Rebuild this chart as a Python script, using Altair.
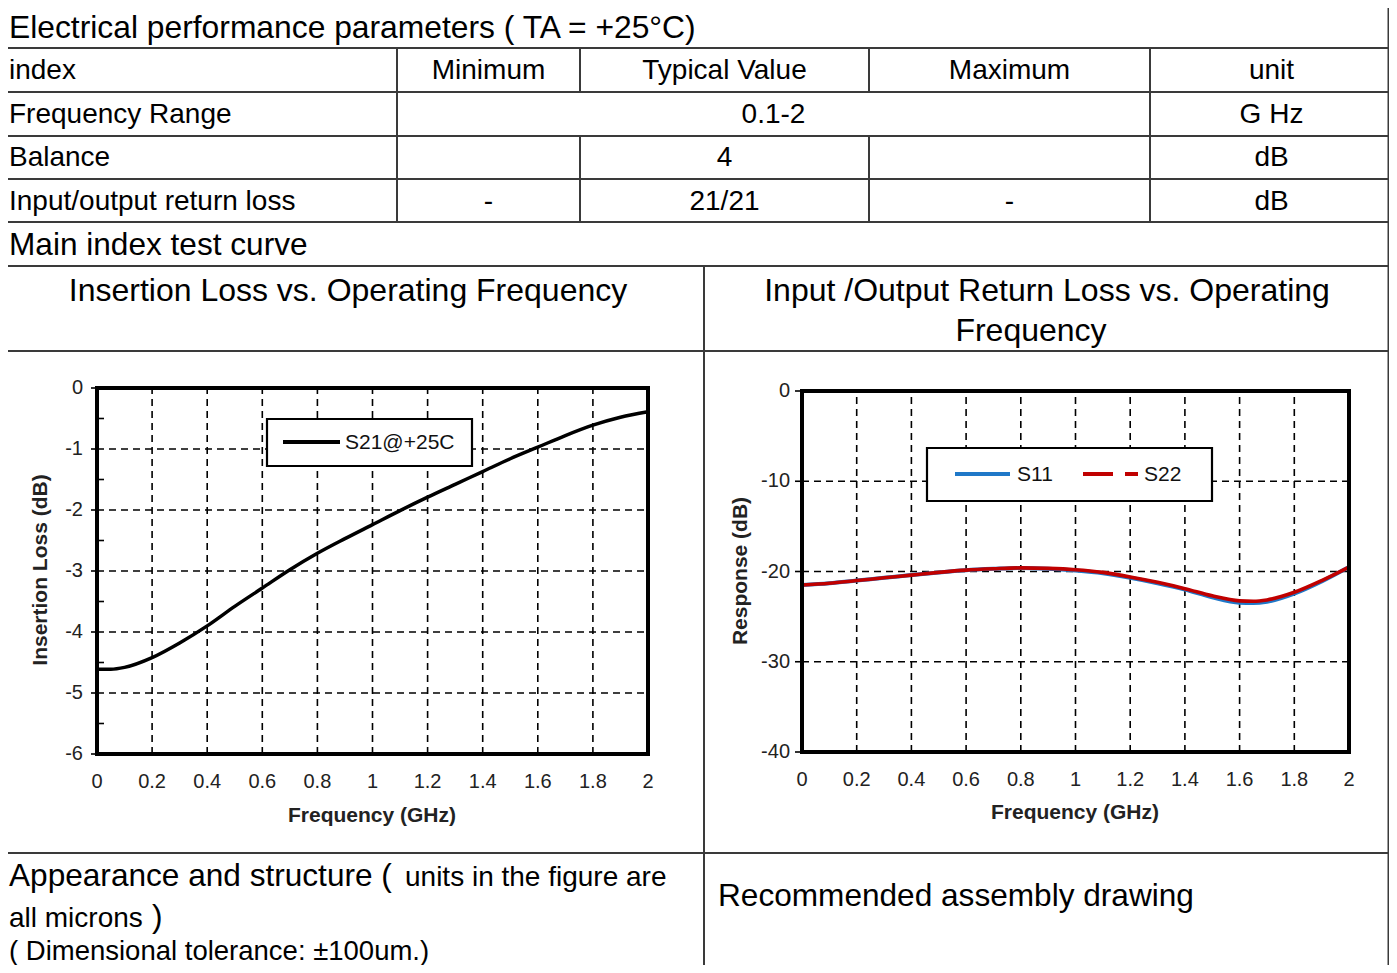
import altair as alt
import pandas as pd

# ---------------- data ----------------
title_text = "Electrical performance parameters ( TA = +25°C)"
header = ["index", "Minimum", "Typical Value", "Maximum", "unit"]
row_names = ["Frequency Range", "Balance", "Input/output return loss"]
row_min = ["", "", "-"]
row_typ = ["0.1-2", "4", "21/21"]
row_max = ["", "", "-"]
row_unit = ["G Hz", "dB", "dB"]
section_curve = "Main index test curve"
chart1_title = ["Insertion Loss vs. Operating Frequency"]
chart2_title = ["Input /Output Return Loss vs. Operating", "Frequency"]
appearance_big = ["Appearance and structure (", ")"]
appearance_small = ["units in the figure are", "all microns", "( Dimensional tolerance: ±100um.)"]
assembly_text = "Recommended assembly drawing"

x_title = "Frequency (GHz)"
il_title = "Insertion Loss (dB)"
rl_title = "Response (dB)"

freq_il = [0.0, 0.05, 0.1, 0.2, 0.3, 0.4, 0.5, 0.6, 0.7, 0.8, 0.9, 1.0,
           1.1, 1.2, 1.3, 1.4, 1.5, 1.6, 1.7, 1.8, 1.9, 2.0]
s21 = [-4.61, -4.61, -4.58, -4.42, -4.18, -3.90, -3.58, -3.28, -2.98, -2.71, -2.47, -2.24,
       -2.01, -1.79, -1.58, -1.37, -1.16, -0.97, -0.78, -0.61, -0.48, -0.39]

freq_rl = [0.0, 0.1, 0.2, 0.3, 0.4, 0.5, 0.6, 0.7, 0.8, 0.9, 1.0, 1.1,
           1.2, 1.3, 1.4, 1.5, 1.6, 1.65, 1.7, 1.8, 1.9, 2.0]
s11 = [-21.5, -21.3, -21.0, -20.7, -20.4, -20.1, -19.85, -19.7, -19.6, -19.7, -19.9, -20.2,
       -20.7, -21.3, -22.0, -22.85, -23.45, -23.5, -23.35, -22.45, -21.1, -19.5]
s22 = [-21.5, -21.3, -21.0, -20.7, -20.4, -20.1, -19.85, -19.7, -19.6, -19.65, -19.8, -20.1,
       -20.6, -21.2, -21.9, -22.7, -23.25, -23.3, -23.15, -22.3, -21.0, -19.5]

x_ticks = [0, 0.2, 0.4, 0.6, 0.8, 1, 1.2, 1.4, 1.6, 1.8, 2]
il_ticks = [0, -1, -2, -3, -4, -5, -6]
il_minor = [-0.5, -1.5, -2.5, -3.5, -4.5, -5.5]
rl_ticks = [0, -10, -20, -30, -40]
legend1 = ["S21@+25C"]
legend2 = ["S11", "S22"]

# ---------------- layout (page pixels) ----------------
FONT = "Liberation Sans"
M = 8  # page margin


def P(v):
    return v - M


W, H = 1397 - 2 * M, 973 - 2 * M
RIGHT = 1388.5  # right table border (kept inside the visible canvas)

layers = []
dummy = pd.DataFrame({"k": [0]})

# table lines
hl = [4, 48, 92, 136, 179, 222, 266, 351, 853]
segs = [(0, y, RIGHT, y) for y in hl]
segs += [(RIGHT, 4, RIGHT, 980)]
segs += [(397, 48, 397, 222), (1150, 48, 1150, 222)]
segs += [(580, 48, 580, 92), (580, 136, 580, 222), (869, 48, 869, 92), (869, 136, 869, 222)]
segs += [(704, 266, 704, 980)]
seg_df = pd.DataFrame([(P(a), P(b), P(c), P(d)) for a, b, c, d in segs], columns=["x", "y", "x2", "y2"])
layers.append(
    alt.Chart(seg_df).mark_rule(color="#3a3a3a", strokeWidth=2).encode(
        x=alt.X("x:Q", scale=None), y=alt.Y("y:Q", scale=None),
        x2="x2:Q", y2="y2:Q")
)


def text_layer(rows, align, weight="normal", angle=0, color="#000000"):
    df = pd.DataFrame([r for r in rows if r[0] != ""], columns=["t", "x", "y", "fs"])
    df["x"] = df["x"] - M
    df["y"] = df["y"] - M
    return alt.Chart(df).mark_text(align=align, baseline="middle", font=FONT,
                                   fontWeight=weight, angle=angle, color=color).encode(
        x=alt.X("x:Q", scale=None), y=alt.Y("y:Q", scale=None),
        text="t:N", size=alt.Size("fs:Q", scale=None))


col_cx = [None, 488.5, 724.5, 1009.5, 1271.5]
row_y = [115, 158, 202]
left_rows = [(title_text, 9, 28, 31.8), (header[0], 9, 71, 28), (section_curve, 9, 246, 31.6)]
left_rows += [(row_names[i], 9, row_y[i], 28) for i in range(3)]
left_rows += [(appearance_big[0], 9, 877, 31.6), (appearance_small[0], 405, 878, 28),
              (appearance_small[1], 9, 919, 28), (appearance_big[1], 152, 918, 31.6),
              (appearance_small[2], 9, 952, 27.5), (assembly_text, 718, 897, 31.6)]
center_rows = [(header[i], col_cx[i], 71, 28) for i in range(1, 5)]
for i in range(3):
    tx = 773.5 if i == 0 else col_cx[2]
    center_rows += [(row_min[i], col_cx[1], row_y[i], 28), (row_typ[i], tx, row_y[i], 28),
                    (row_max[i], col_cx[3], row_y[i], 28), (row_unit[i], col_cx[4], row_y[i], 28)]
center_rows += [(chart1_title[0], 348, 291, 32), (chart2_title[0], 1047, 291, 32),
                (chart2_title[1], 1031, 331, 32)]
layers.append(text_layer(left_rows, "left"))
layers.append(text_layer(center_rows, "center"))


def make_plot(xr, yd, yr, yticks, minor, series, colors, widths, ytitle, xlab_y, ylab_x,
              xtitle_pos, ytitle_pos, tick_x):
    XS = alt.Scale(domain=[0, 2], range=[P(xr[0]), P(xr[1])])
    YS = alt.Scale(domain=yd, range=[P(yr[0]), P(yr[1])])
    out = []
    # grid
    vg = pd.DataFrame({"f": x_ticks[1:-1], "lo": yd[0], "hi": yd[1]})
    out.append(alt.Chart(vg).mark_rule(color="black", strokeWidth=1.6, strokeDash=[7, 5]).encode(
        x=alt.X("f:Q", scale=XS, axis=None), y=alt.Y("lo:Q", scale=YS, axis=None), y2="hi:Q"))
    hg = pd.DataFrame({"v": yticks[1:-1], "a": 0, "b": 2})
    out.append(alt.Chart(hg).mark_rule(color="black", strokeWidth=1.6, strokeDash=[7, 5]).encode(
        y=alt.Y("v:Q", scale=YS, axis=None), x=alt.X("a:Q", scale=XS, axis=None), x2="b:Q"))
    # major ticks
    mt = pd.DataFrame({"v": yticks})
    out.append(alt.Chart(mt).mark_rule(color="black", strokeWidth=1.6).encode(
        y=alt.Y("v:Q", scale=YS, axis=None), x=alt.value(P(tick_x)), x2=alt.value(P(xr[0]))))
    if minor:
        mn = pd.DataFrame({"v": minor})
        out.append(alt.Chart(mn).mark_rule(color="black", strokeWidth=1.6).encode(
            y=alt.Y("v:Q", scale=YS, axis=None), x=alt.value(P(xr[0])), x2=alt.value(P(xr[0] + 7))))
    # curves
    for (fx, fy), c, w in zip(series, colors, widths):
        df = pd.DataFrame({"f": fx, "v": fy})
        out.append(alt.Chart(df).mark_line(color=c, strokeWidth=w, interpolate="monotone").encode(
            x=alt.X("f:Q", scale=XS, axis=None), y=alt.Y("v:Q", scale=YS, axis=None)))
    # frame
    fr = pd.DataFrame({"x0": [0], "x1": [2], "y0": [yd[0]], "y1": [yd[1]]})
    out.append(alt.Chart(fr).mark_rect(fill="transparent", stroke="black", strokeWidth=4).encode(
        x=alt.X("x0:Q", scale=XS, axis=None), x2="x1:Q",
        y=alt.Y("y0:Q", scale=YS, axis=None), y2="y1:Q"))
    # tick labels
    xl = pd.DataFrame({"f": x_ticks, "t": [f"{t:g}" for t in x_ticks]})
    out.append(alt.Chart(xl).mark_text(font=FONT, fontSize=20, color="#222222", baseline="middle").encode(
        x=alt.X("f:Q", scale=XS, axis=None), y=alt.value(P(xlab_y)), text="t:N"))
    yl = pd.DataFrame({"v": yticks, "t": [f"{t:g}" for t in yticks]})
    out.append(alt.Chart(yl).mark_text(font=FONT, fontSize=20, color="#222222", align="right",
                                       baseline="middle").encode(
        y=alt.Y("v:Q", scale=YS, axis=None), x=alt.value(P(ylab_x)), text="t:N"))
    # titles
    out.append(alt.Chart(dummy).mark_text(font=FONT, fontSize=21, fontWeight="bold", color="#222222",
                                          baseline="middle").encode(
        x=alt.value(P(xtitle_pos[0])), y=alt.value(P(xtitle_pos[1])), text=alt.value(x_title)))
    out.append(alt.Chart(dummy).mark_text(font=FONT, fontSize=21, fontWeight="bold", color="#222222",
                                          baseline="middle", angle=270).encode(
        x=alt.value(P(ytitle_pos[0])), y=alt.value(P(ytitle_pos[1])), text=alt.value(ytitle)))
    return out


layers += make_plot((97, 648), [-6, 0], (754, 388), il_ticks, il_minor,
                    [(freq_il, s21)], ["black"], [3.5], il_title, 782, 83,
                    (372, 816), (41, 570), 91)
layers += make_plot((802, 1349), [-40, 0], (752, 391), rl_ticks, None,
                    [(freq_rl, s11), (freq_rl, s22)], ["#1f78c8", "#c00000"], [4, 3.6],
                    rl_title, 780, 790, (1075, 813), (741, 571), 795)


# legends
def box(x0, x1, y0, y1):
    return alt.Chart(dummy).mark_rect(fill="white", stroke="black", strokeWidth=2.2).encode(
        x=alt.value(P(x0)), x2=alt.value(P(x1)), y=alt.value(P(y0)), y2=alt.value(P(y1)))


def sample(x0, x1, y, color, dash=None):
    kw = {"color": color, "strokeWidth": 4}
    if dash:
        kw["strokeDash"] = dash
    return alt.Chart(dummy).mark_rule(**kw).encode(
        x=alt.value(P(x0)), x2=alt.value(P(x1)), y=alt.value(P(y)))


def label(x, y, t):
    return alt.Chart(dummy).mark_text(font=FONT, fontSize=21, align="left", baseline="middle",
                                      color="#111111").encode(
        x=alt.value(P(x)), y=alt.value(P(y)), text=alt.value(t))


layers += [box(267, 472, 419, 466), sample(283, 340, 442, "black"), label(345, 443, legend1[0])]
layers += [box(927, 1212, 448, 501), sample(955, 1010, 474, "#1f78c8"), label(1017, 475, legend2[0]),
           sample(1083, 1138, 474, "#c00000", [30, 12]), label(1144, 475, legend2[1])]

chart = alt.layer(*layers).resolve_scale(x="independent", y="independent").properties(
    width=W, height=H, autosize=alt.AutoSizeParams(type="none"), padding=0,
    background="white"
).configure_view(stroke=None)

chart.save("out.html", embed_options={"renderer": "svg", "actions": False})
